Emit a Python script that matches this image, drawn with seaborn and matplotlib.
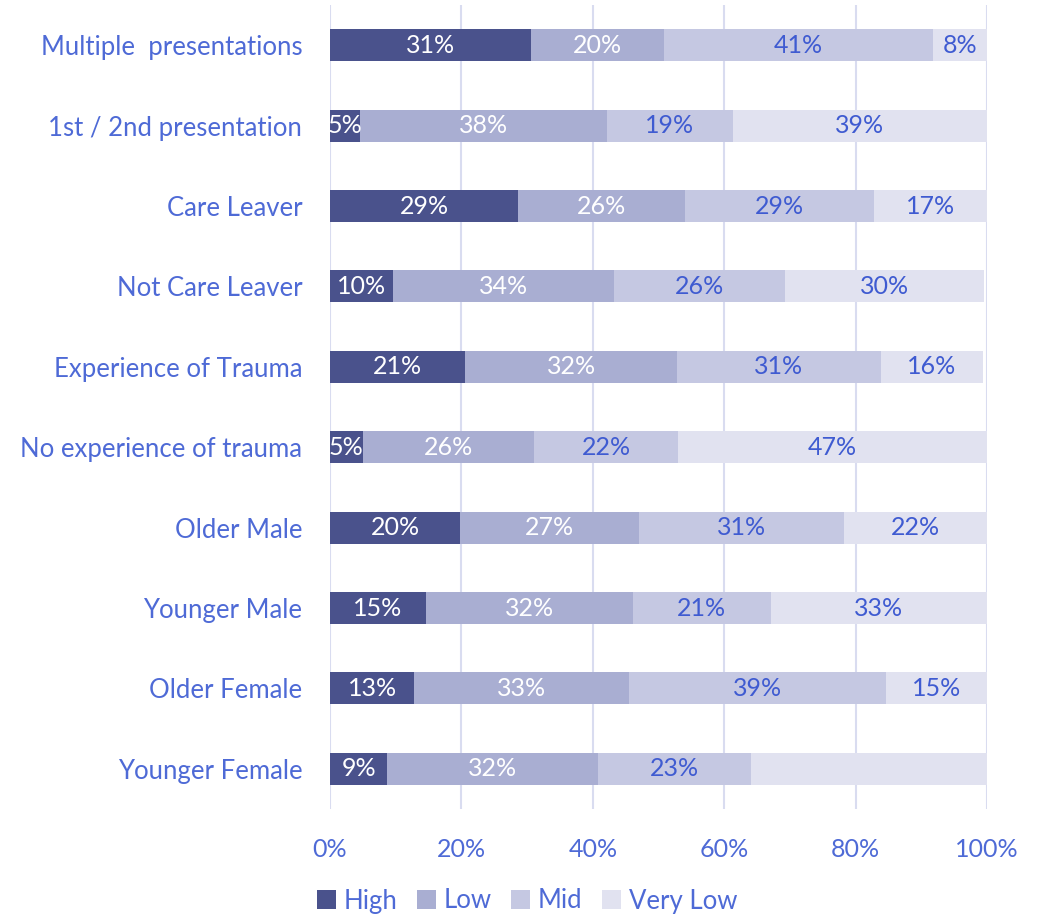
import matplotlib
matplotlib.use("Agg")
import matplotlib.pyplot as plt
import seaborn as sns
import numpy as np
import pandas as pd
from matplotlib.patches import Patch

categories = ["Multiple  presentations", "1st / 2nd presentation", "Care Leaver",
              "Not Care Leaver", "Experience of Trauma", "No experience of trauma",
              "Older Male", "Younger Male", "Older Female", "Younger Female"]
high = [30.6, 4.6, 28.6, 9.6, 20.6, 5.0, 19.8, 14.6, 12.8, 8.7]
low = [20.2, 37.6, 25.5, 33.6, 32.2, 26.1, 27.2, 31.5, 32.7, 32.1]
mid = [41.0, 19.1, 28.7, 26.0, 31.0, 21.9, 31.2, 21.0, 39.1, 23.3]
very_low = [8.2, 38.7, 17.2, 30.3, 15.6, 47.0, 21.8, 32.9, 15.4, 35.9]
show_vl_label = [True, True, True, True, True, True, True, True, True, False]

series_names = ["High", "Low", "Mid", "Very Low"]
colors = ["#4A528C", "#A9AED2", "#C5C8E2", "#E1E2F0"]
label_colors = ["white", "white", "#3F5BD1", "#3F5BD1"]
text_color = "#4E6AD6"
grid_color = "#D9DCF0"

sns.set_theme(style="white")
plt.rcParams["font.family"] = ["Lato", "DejaVu Sans"]

df = pd.DataFrame({"cat": categories, "High": high, "Low": low, "Mid": mid, "Very Low": very_low})
vals = df[series_names].to_numpy()
cum = np.cumsum(vals, axis=1)

fig = plt.figure(figsize=(10.44, 9.19), dpi=100)
ax = fig.add_axes([330/1044, 1-809/919, (987-330)/1044, (809-5)/919])

for i in range(3, -1, -1):
    d = pd.DataFrame({"cat": categories, "v": cum[:, i]})
    sns.barplot(data=d, x="v", y="cat", order=categories, color=colors[i],
                width=0.4, saturation=1, ax=ax, zorder=3, linewidth=0)

for r in range(len(categories)):
    for i in range(4):
        if i == 3 and not show_vl_label[r]:
            continue
        start = cum[r, i] - vals[r, i]
        cx = start + vals[r, i] / 2
        ax.text(cx, r, f"{vals[r, i]:.0f}%", ha="center", va="center",
                color=label_colors[i], fontsize=18, zorder=5, clip_on=True)

ax.set_xlim(0, 100)
ax.set_ylim(9.5, -0.5)
ax.set_xticks([0, 20, 40, 60, 80, 100])
ax.set_xticklabels([f"{v}%" for v in [0, 20, 40, 60, 80, 100]])
ax.xaxis.grid(True, color=grid_color, linewidth=1.5, zorder=0)
ax.yaxis.grid(False)
for s in ax.spines.values():
    s.set_visible(False)
ax.set_xlabel("")
ax.set_ylabel("")
ax.tick_params(axis="x", colors=text_color, labelsize=18, length=0, pad=21)
ax.tick_params(axis="y", colors=text_color, labelsize=18.5, length=0, pad=20)
for lbl in ax.get_xticklabels() + ax.get_yticklabels():
    lbl.set_color(text_color)

handles = [Patch(facecolor=c, edgecolor="none", label=n) for c, n in zip(colors, series_names)]
leg = fig.legend(handles=handles, loc="center", bbox_to_anchor=(527/1044, 1-901/919), ncol=4,
                 frameon=False, fontsize=18.5, handlelength=0.75, handleheight=0.75,
                 handletextpad=0.3, columnspacing=0.75)
for t in leg.get_texts():
    t.set_color(text_color)

fig.savefig("out.png", dpi=100)
